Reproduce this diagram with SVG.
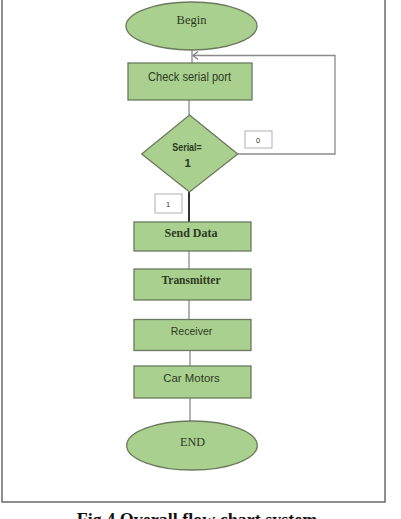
<svg xmlns="http://www.w3.org/2000/svg" width="401" height="519" viewBox="0 0 401 519">
<defs>
<style>
.shape{fill:#a9d08e;stroke:#6a7a5c;stroke-width:1.3}
.conn{fill:none;stroke:#8a8a8a;stroke-width:1.3}
.lbl{fill:#ffffff;stroke:#b0b0b0;stroke-width:1}
.serif{font-family:"Liberation Serif","Times New Roman",serif;fill:#2e3a24;text-anchor:middle}
.sans{font-family:"Liberation Sans",Arial,sans-serif;fill:#2e3a24;text-anchor:middle}
</style>
<marker id="open" markerWidth="10" markerHeight="10" refX="5" refY="4" orient="auto" markerUnits="userSpaceOnUse">
<path d="M0,0 L5,4 L0,8" fill="none" stroke="#7a7a7a" stroke-width="1.1"/>
</marker>
</defs>
<rect x="0" y="0" width="401" height="519" fill="#ffffff"/>
<path d="M2,-2 V502 H385 V-2" fill="none" stroke="#6a6a6a" stroke-width="1.5"/>
<g id="connectors">
<line class="conn" x1="192" y1="50" x2="192" y2="63"/>
<path class="conn" d="M238,154 H335 V55.5 H193" marker-end="url(#open)"/>
<line class="conn" x1="189" y1="100" x2="189" y2="115"/>
<line x1="189" y1="192" x2="189" y2="222" stroke="#333333" stroke-width="2"/>
<line class="conn" x1="189" y1="251" x2="189" y2="269"/>
<line class="conn" x1="189" y1="300" x2="189" y2="319"/>
<line class="conn" x1="190" y1="351" x2="190" y2="366"/>
<line class="conn" x1="190" y1="398" x2="190" y2="421"/>
</g>
<g id="begin">
<ellipse class="shape" cx="191.5" cy="26" rx="65.5" ry="24"/>
<text class="serif" x="191.5" y="24" font-size="12.5">Begin</text>
</g>
<g id="check">
<rect class="shape" x="128" y="63" width="124" height="37"/>
<text class="sans" x="189.5" y="81" font-size="12" textLength="83" lengthAdjust="spacingAndGlyphs">Check serial port</text>
</g>
<g id="decision">
<polygon class="shape" points="189.5,115 237.7,154 189.5,192 141.7,154"/>
<text class="sans" x="187" y="150.5" font-size="11.5" font-weight="bold" textLength="29.5" lengthAdjust="spacingAndGlyphs">Serial=</text>
<text class="sans" x="187.7" y="167" font-size="11.5" font-weight="bold">1</text>
</g>
<g id="label0">
<rect class="lbl" x="245" y="131" width="27" height="17"/>
<text class="sans" x="258" y="142.5" font-size="7.5">0</text>
</g>
<g id="label1">
<rect class="lbl" x="155" y="194" width="27" height="19"/>
<text class="sans" x="168" y="206.5" font-size="7.5">1</text>
</g>
<g id="send">
<rect class="shape" x="134" y="222" width="117" height="29"/>
<text class="serif" x="191" y="237" font-size="12" font-weight="bold">Send Data</text>
</g>
<g id="transmitter">
<rect class="shape" x="134" y="269" width="117" height="31"/>
<text class="serif" x="191" y="283.5" font-size="11.5" font-weight="bold" textLength="59" lengthAdjust="spacingAndGlyphs">Transmitter</text>
</g>
<g id="receiver">
<rect class="shape" x="134" y="319.5" width="117" height="31"/>
<text class="sans" x="191.5" y="334.5" font-size="11.5" textLength="41.5" lengthAdjust="spacingAndGlyphs">Receiver</text>
</g>
<g id="motors">
<rect class="shape" x="134" y="366" width="117" height="32"/>
<text class="sans" x="191.5" y="382" font-size="11.5" textLength="56.5" lengthAdjust="spacingAndGlyphs">Car Motors</text>
</g>
<g id="end">
<ellipse class="shape" cx="192" cy="445.5" rx="65.3" ry="24.5"/>
<text class="serif" x="192.5" y="445.5" font-size="12.2">END</text>
</g>
<text x="197" y="526" font-family="'Liberation Serif','Times New Roman',serif" font-size="18" font-weight="bold" text-anchor="middle" fill="#111111">Fig.4 Overall flow chart system</text>
</svg>
